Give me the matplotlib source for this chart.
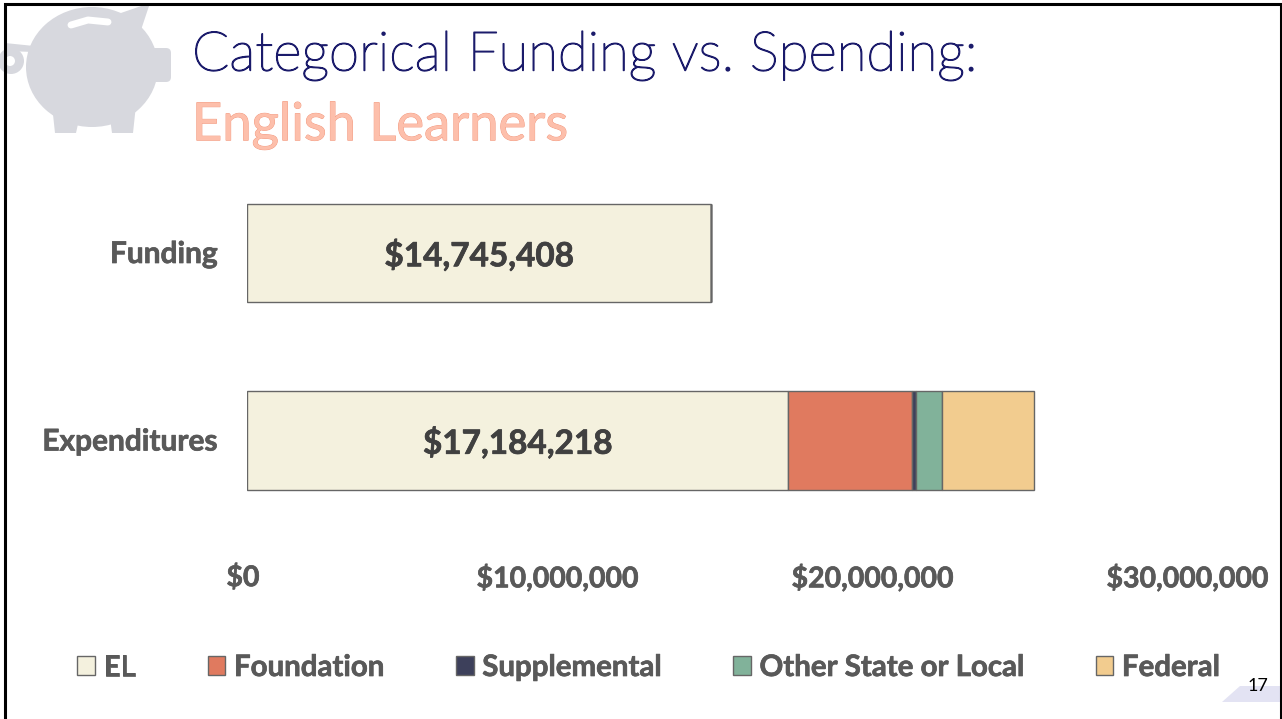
import numpy as np
import matplotlib
matplotlib.use('Agg')
import matplotlib.pyplot as plt
from matplotlib import patheffects, transforms
from matplotlib.patches import Circle, Ellipse, FancyBboxPatch, Polygon, Rectangle

plt.rcParams['font.family'] = ['Lato', 'DejaVu Sans']

categories = ['Expenditures', 'Funding']
series_names = ['EL', 'Foundation', 'Supplemental', 'Other State or Local', 'Federal']
series_values = {
    'EL': [17184218, 14745408],
    'Foundation': [3940000, 0],
    'Supplemental': [110000, 0],
    'Other State or Local': [830000, 0],
    'Federal': [2920000, 0],
}
series_colors = ['#F4F1DE', '#E07A5F', '#3D405B', '#81B29A', '#F2CC8F']
x_ticks = [0, 10000000, 20000000, 30000000]
W, H = 1282, 719

fig = plt.figure(figsize=(W / 100, H / 100), dpi=100)

# pixel overlay for the slide furniture
bg = fig.add_axes([0, 0, 1, 1])
bg.set_xlim(0, W)
bg.set_ylim(H, 0)
bg.axis('off')

pig = '#D7D8DE'
bg.add_patch(Ellipse((92, 67), 132, 120, color=pig, lw=0))
bg.add_patch(FancyBboxPatch((146, 53), 20, 24, boxstyle='round,pad=5', color=pig, lw=0))
bg.add_patch(Polygon([(52, 105), (80, 115), (76, 133), (55, 133)], color=pig, lw=0))
bg.add_patch(Polygon([(136, 105), (110, 118), (112, 133), (133, 133)], color=pig, lw=0))
bg.add_patch(Polygon([(118, 14), (150, 3), (141, 30)], color=pig, lw=0))
bg.add_patch(Polygon([(5, 43), (34, 46), (34, 52), (5, 51)], color=pig, lw=0))
bg.add_patch(Circle((11, 61), 13, color=pig, lw=0))
bg.add_patch(Circle((10, 61), 5, color='white', lw=0))
bg.plot([71, 88, 108], [25, 20, 22], color='white', lw=5, solid_capstyle='round')

bg.add_patch(Polygon([(1222, 702), (1240, 686), (1281, 686), (1281, 702)], color='#E3E3F3', lw=0))
bg.text(1258, 686, '17', fontsize=13, color='black', ha='center', va='center')

bg.plot([5, 5, 1281, 1281], [H, 4, 4, H], color='black', lw=2.2, solid_joinstyle='miter')

t1 = bg.text(192, 55, 'Categorical Funding vs. Spending:', fontsize=39.4, color='#1B1B6B',
             fontweight='light', ha='left', va='center')
t1.set_path_effects([patheffects.withStroke(linewidth=1.0, foreground='#1B1B6B')])
t2 = bg.text(192, 126, 'English Learners', fontsize=37.8, color='#FDBFAB', ha='left', va='center')
t2.set_path_effects([patheffects.withStroke(linewidth=0.6, foreground='#F2957A')])

heavy = [patheffects.withStroke(linewidth=0.5, foreground='#595959')]

# chart axes
top, bottom = 160, 535
ax = fig.add_axes([247 / W, 1 - bottom / H, 945 / W, (bottom - top) / H])
ax.patch.set_alpha(0)
y = np.arange(len(categories))
left = np.zeros(len(categories))
for name, col in zip(series_names, series_colors):
    vals = np.array(series_values[name], dtype=float)
    ax.barh(y, vals, left=left, height=0.525, color=col, edgecolor='#666666', linewidth=1,
            label=name)
    if name == 'EL':
        for yi, v, l in zip(y, vals, left):
            txt = ax.text(l + v / 2, yi - 0.013, '${:,.0f}'.format(v), ha='center', va='center',
                          fontsize=24, fontweight='bold', color='#404040')
            txt.set_path_effects([patheffects.withStroke(linewidth=0.5, foreground='#404040')])
    left += vals

ax.set_xlim(0, 30000000)
ax.set_ylim(-0.504, 1.496)
ax.set_yticks(y)
ax.set_yticklabels(categories)
ax.set_xticks(x_ticks)
ax.set_xticklabels(['${:,.0f}'.format(v) for v in x_ticks])
ax.tick_params(axis='both', length=0, labelcolor='#595959')
ax.tick_params(axis='x', pad=21, labelsize=20.5)
ax.tick_params(axis='y', pad=21, labelsize=21.5)
for lab in ax.get_xticklabels() + ax.get_yticklabels():
    lab.set_fontweight('bold')
    lab.set_path_effects(heavy)
shift = transforms.ScaledTranslation(-4 / 100, 0, fig.dpi_scale_trans)
for lab in ax.get_xticklabels():
    lab.set_transform(lab.get_transform() + shift)
shift_y = transforms.ScaledTranslation(0, 1.5 / 100, fig.dpi_scale_trans)
for lab in ax.get_yticklabels():
    lab.set_transform(lab.get_transform() + shift_y)
for s in ax.spines.values():
    s.set_visible(False)

leg = fig.legend(*ax.get_legend_handles_labels(), ncol=5, loc='center left',
                 bbox_to_anchor=(77 / W, 1 - 668 / H), frameon=False, fontsize=21.2,
                 handlelength=0.6, handleheight=0.6, handletextpad=0.29,
                 columnspacing=2.46, borderpad=0, borderaxespad=0)
for t in leg.get_texts():
    t.set_fontweight('bold')
    t.set_color('#595959')
    t.set_path_effects(heavy)

fig.savefig('out.png', dpi=100)
